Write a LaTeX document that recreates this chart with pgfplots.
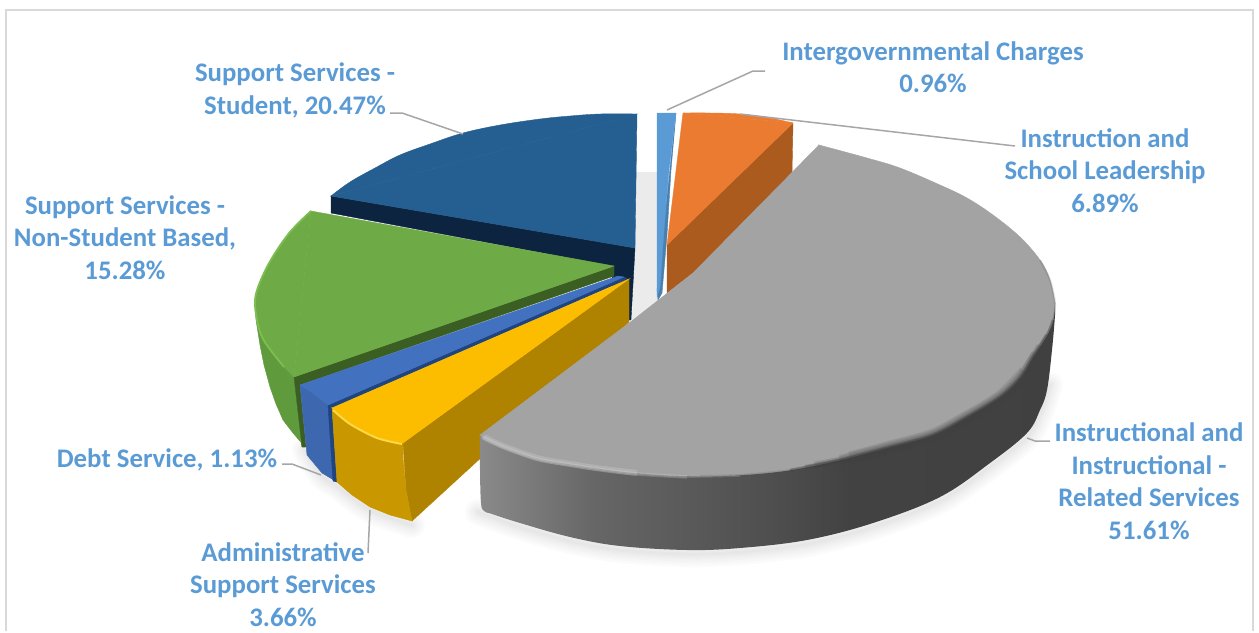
\documentclass[border=0pt]{standalone}
\usepackage{fontspec}
\setmainfont{Carlito}
\usepackage{pgfplots}
\pgfplotsset{compat=1.18}

\definecolor{lbl}{HTML}{5B9BD5}
\definecolor{leader}{HTML}{A6A6A6}
\definecolor{navyface}{HTML}{255E91}
\definecolor{navyside}{HTML}{0C2440}
\definecolor{greenface}{HTML}{6EAB46}
\definecolor{greenwall}{HTML}{5F9B3C}
\definecolor{greenside}{HTML}{3B5E22}
\definecolor{greenrim}{HTML}{7CBE50}
\definecolor{blueface}{HTML}{4271BF}
\definecolor{bluewall}{HTML}{3D68B0}
\definecolor{blueside}{HTML}{1F4480}
\definecolor{goldface}{HTML}{FCBD00}
\definecolor{goldwall}{HTML}{C99700}
\definecolor{goldside}{HTML}{AF8200}
\definecolor{goldrim}{HTML}{FFD846}
\definecolor{skyside}{HTML}{4A80B0}
\definecolor{orangeface}{HTML}{EB7B30}
\definecolor{orangeside}{HTML}{AB5B1E}
\definecolor{grayface}{HTML}{A3A3A3}
\pgfdeclarehorizontalshading{graywall}{100bp}{
  color(0bp)=(black!46); color(25bp)=(black!46); color(35bp)=(black!60);
  color(50bp)=(black!69); color(57bp)=(black!74); color(100bp)=(black!76)}

\tikzset{
  % faces: a straight polygon, and each curved rim as a smooth piece closed by its chord
  poly/.style={draw=#1, line width=.4pt, fill=#1},
  curved/.style={draw=#1, line width=.4pt, fill=#1, smooth, tension=.6},
  lead/.style={draw=leader, line width=1.5pt},
  lab/.style={font=\fontsize{26.8}{32.5}\selectfont\bfseries, text=lbl, align=center, inner sep=0pt, anchor=center},
}

\begin{document}
\begin{tikzpicture}
\begin{axis}[
  scale only axis, width=1259pt, height=631pt,
  xmin=0, xmax=1259, ymin=0, ymax=631, y dir=reverse,
  hide axis, clip=false,
]
\path (axis cs:0,0) rectangle (axis cs:1259,631);

% frame, open at the bottom
\addplot[draw=black!15, line width=2.5pt] coordinates {(6,631)(6,10)(1253,10)(1253,631)};

% soft shadow under the pie
\pgfplotsinvokeforeach{26,21,16,11,7,3}{
  \addplot[draw=black, opacity=.016, line width=#1pt, smooth, line cap=round] coordinates {(478,512)(520,527)(570,541)(620,550)(687,554)(740,552)(807,544)(873,527)(940,501)(990,467)(1027,437)(1040,414)(1050,385)};
  \addplot[draw=black, opacity=.016, line width=#1pt, smooth, line cap=round] coordinates {(305,450)(322,476)(337,486)(370,510)(412,525)};
}
% back wall seen through the gap
\addplot[draw=none, fill=black!8] coordinates {(636,172)(658,172)(658,302)(632,320)} -- cycle;

% Support Services - Student
\addplot[poly=navyside] coordinates {(331,196)(635,248)(631,320)(612,320)(612,266)(331,213)} -- cycle;
\addplot[curved=navyface] coordinates {(637,114)(600,114)(570,116)(540,119)(500,125)(463,133)(430,144)(400,155)(375,168)(350,182)(331,196)} -- cycle;
\addplot[poly=navyface] coordinates {(637,114)(331,196)(635,248)} -- cycle;

% Support Services - Non-Student Based
\addplot[poly=greenwall] coordinates {(255,300)(257,320)(262,337)(272,352)(284,367)(294,377)(302,447)(305,447)(293,433)(283,420)(276,404)(270,387)(264,365)(260,345)(256,320)} -- cycle;
\addplot[poly=greenside] coordinates {(294,377)(614,266)(614,276)(300,385)(306,447)(302,447)} -- cycle;
\addplot[curved=greenface] coordinates {(311,211)(290,232)(272,258)(260,282)(255,300)(257,320)(262,337)(272,352)(284,367)(294,377)} -- cycle;
\addplot[poly=greenface] coordinates {(614,266)(311,211)(294,377)} -- cycle;
\addplot[draw=greenrim, line width=1.8pt, smooth, tension=.6] coordinates {(311,211)(290,232)(272,258)(260,282)(255,300)(257,320)(262,337)(272,352)(284,367)};

% Debt Service
\addplot[poly=bluewall] coordinates {(300,385)(313,393)(328,405)(337,482)(322,473)(307,455)} -- cycle;
\addplot[poly=blueside] coordinates {(328,405)(624,277)(628,279)(332,408)(337,482)(333,481)} -- cycle;
\addplot[poly=blueface] coordinates {(300,385)(618,276)(624,277)(328,405)(313,393)} -- cycle;

% Administrative Support Services
\addplot[poly=goldside] coordinates {(403,443)(629,279)(629,322)(412,521)(406,490)} -- cycle;
\addplot[poly=goldwall] coordinates {(332,408)(350,423)(377,437)(403,443)(403,457)(406,490)(412,521)(390,515)(370,507)(352,495)(337,482)} -- cycle;
\addplot[curved=goldface] coordinates {(332,408)(350,423)(377,437)(403,443)} -- cycle;
\addplot[poly=goldface] coordinates {(629,279)(332,408)(403,443)} -- cycle;
\addplot[draw=goldrim, line width=2pt, smooth] coordinates {(333,410)(350,424)(377,438)(402,444)};

% Intergovernmental Charges
\addplot[poly=skyside] coordinates {(676,113)(671,170)(667,235)(662,293)(658,300)(657,290)} -- cycle;
\addplot[poly=lbl] coordinates {(657,113)(676,113)(669,170)(664,230)(660,287)(657,296)} -- cycle;

% Instruction and School Leadership
\addplot[poly=orangeside] coordinates {(793,123)(667,245)(667,293)(693,273)(792,173)} -- cycle;
\addplot[curved=orangeface] coordinates {(683,113)(710,113)(740,114)(770,118)(793,123)} -- cycle;
\addplot[poly=orangeface] coordinates {(683,113)(793,123)(667,245)} -- cycle;

% Instructional and Instructional - Related Services
\addplot[shading=graywall, draw=none, smooth, tension=.6] coordinates {(1055,303)(1055,315)(1052,350)(1047,390)(1040,410)(1027,433)(990,463)(940,497)(873,523)(807,540)(740,548)(687,550)(620,546)(570,537)(520,523)(492,514)(484,511)(481,503)(480,470)(480,435)} -- cycle;
\addplot[curved=grayface] coordinates {(819,145)(867,158)(900,168)(940,185)(967,198)(993,215)(1020,237)(1040,260)(1050,280)(1055,303)} -- cycle;
\addplot[curved=grayface] coordinates {(1055,303)(1053,320)(1047,335)(1033,357)(1020,378)(1000,397)(967,417)(933,435)(890,447)(840,460)(790,470)(740,475)(687,476)(637,473)(603,469)(570,464)(537,458)(503,446)(480,435)} -- cycle;
\addplot[poly=grayface] coordinates {(819,145)(1055,303)(480,435)(633,320)(693,273)} -- cycle;
% dark soft edge on the right of the rim, thinner towards its ends
\addplot[draw=black!75, opacity=.16, line width=2pt, smooth] coordinates {(1040,260)(1050,280)(1055,303)(1053,320)(1047,335)(1033,357)(1020,378)(1000,397)(967,417)(933,435)(890,447)(840,460)(790,470)(740,475)(700,476)};
\addplot[draw=black!75, opacity=.4, line width=2.5pt, smooth] coordinates {(1053,320)(1047,335)(1033,357)(1020,378)(1000,397)(967,417)(933,435)(890,447)(840,460)(790,470)};
\addplot[draw=black!75, opacity=.3, line width=4pt, smooth] coordinates {(1047,335)(1033,357)(1020,378)(1000,397)(967,417)(933,435)(890,447)(840,460)(805,467)};
\addplot[draw=black!75, opacity=.2, line width=7pt, smooth] coordinates {(1040,346)(1033,357)(1020,378)(1000,397)(967,417)(933,435)(890,447)(840,460)(815,465)};
\addplot[draw=black!75, opacity=.16, line width=10pt, smooth] coordinates {(1036,354)(1020,378)(1000,397)(967,417)(933,435)(890,447)(840,460)};
\addplot[draw=black!75, opacity=.14, line width=13pt, smooth] coordinates {(1025,372)(1000,397)(967,417)(933,435)(890,447)(850,458)};
% highlight on the left of the rim, thinner towards its end
\addplot[draw=white, opacity=.14, line width=1.5pt, smooth] coordinates {(482,437)(503,447)(537,459)(570,465)(603,470)(637,474)(687,477)(740,476)};
\addplot[draw=white, opacity=.16, line width=3.5pt, smooth] coordinates {(482,437)(503,447)(537,459)(570,465)(603,470)(637,474)(687,477)};
\addplot[draw=white, opacity=.16, line width=6pt, smooth] coordinates {(484,437)(503,446)(537,458)(570,464)(603,469)(637,473)};

% leader lines
\addplot[lead] coordinates {(667,110)(753,71)(765,71)};
\addplot[lead] coordinates {(740,114)(1015,146)};
\addplot[lead] coordinates {(390,113)(402,113)(463,134)};
\addplot[lead] coordinates {(282,464)(292,464)(321,475)};
\addplot[lead] coordinates {(370,510)(368,553)};
\addplot[lead] coordinates {(1027,438)(1035,441)(1050,441)};

% data labels
\node[lab] at (axis cs:933,67) {Intergovernmental Charges\\0.96\%};
\node[lab] at (axis cs:1105,170.5) {Instruction and\\School Leadership\\6.89\%};
\node[lab] at (axis cs:1149,481) {Instructional and\\Instructional -\\Related Services\\51.61\%};
\node[lab] at (axis cs:295,90.5) {Support Services -\\Student, 20.47\%};
\node[lab] at (axis cs:125,237.5) {Support Services -\\Non-Student Based,\\15.28\%};
\node[lab] at (axis cs:167,459.5) {Debt Service, 1.13\%};
\node[lab] at (axis cs:283,584.5) {Administrative\\Support Services\\3.66\%};
\end{axis}
\end{tikzpicture}
\end{document}
